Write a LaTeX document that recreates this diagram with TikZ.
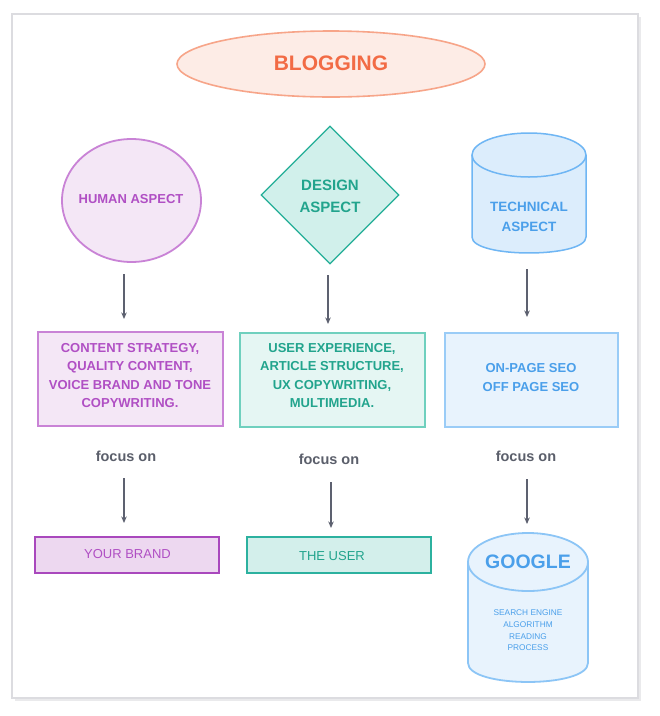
\documentclass[tikz,border=0pt]{standalone}
\usepackage{fontspec}
\setmainfont{Liberation Sans}
\usetikzlibrary{shapes.geometric,arrows.meta}
\definecolor{orgfill}{HTML}{FDECE6}
\definecolor{orgdraw}{HTML}{F7A589}
\definecolor{orgtext}{HTML}{F26B45}
\definecolor{purfill}{HTML}{F4E7F6}
\definecolor{purdraw}{HTML}{C983D6}
\definecolor{purtext}{HTML}{B04FC4}
\definecolor{purfilltwo}{HTML}{EDD8F0}
\definecolor{purdrawtwo}{HTML}{A948BD}
\definecolor{tealfill}{HTML}{D1F0EB}
\definecolor{tealdraw}{HTML}{23AE97}
\definecolor{tealtext}{HTML}{22A48D}
\definecolor{tealboxfill}{HTML}{E5F6F3}
\definecolor{tealboxdraw}{HTML}{6FD0BE}
\definecolor{tealfilltwo}{HTML}{D3EFEB}
\definecolor{tealdrawtwo}{HTML}{2CB19F}
\definecolor{bluefill}{HTML}{DCEDFC}
\definecolor{bluedraw}{HTML}{6FB6F4}
\definecolor{bluetext}{HTML}{4A9FEA}
\definecolor{blueboxfill}{HTML}{E8F3FD}
\definecolor{blueboxdraw}{HTML}{9ACCF7}
\definecolor{arrowc}{HTML}{5D6170}
\definecolor{focusc}{HTML}{5B5F6B}
\definecolor{framec}{HTML}{DCDCE0}
\begin{document}
\begin{tikzpicture}[x=1pt,y=-1pt,
  arr/.style={draw=arrowc, line width=1.1pt, -{Stealth[length=6.5pt,width=5.5pt]}},
  boxnode/.style={rectangle, inner sep=0pt, line width=1.6pt},
  lowbox/.style={rectangle, inner sep=0pt, line width=2.2pt, minimum width=184pt, minimum height=36pt},
  bold13/.style={font=\fontsize{13}{18.3}\selectfont\bfseries, align=center, inner sep=0pt},
  focus/.style={font=\fontsize{14.5}{17}\selectfont\bfseries, text=focusc, inner sep=0pt}
]
\useasboundingbox (0,0) rectangle (660,716);
\fill[white] (0,0) rectangle (660,716);
% frame
\draw[framec!60, line width=2pt] (15,700) -- (640,700) -- (640,17);
\draw[framec, line width=2.5pt] (12,14) rectangle (638,698);

% title
\node[ellipse, draw=orgdraw, fill=orgfill, line width=1.6pt, minimum width=308pt, minimum height=66pt, inner sep=0pt] (blog) at (331,64) {};
\node[font=\fontsize{21}{25}\selectfont\bfseries, text=orgtext, inner sep=0pt] (blogt) at (331,63) {BLOGGING};

% human aspect
\node[ellipse, draw=purdraw, fill=purfill, line width=1.8pt, minimum width=139pt, minimum height=123pt, inner sep=0pt] (hum) at (131.5,200.5) {};
\node[bold13, text=purtext] (humt) at (131,199) {HUMAN ASPECT};

% design aspect
\node[diamond, draw=tealdraw, fill=tealfill, line width=1.2pt, minimum width=138pt, minimum height=138pt, inner sep=0pt] (des) at (330,195) {};
\node[font=\fontsize{15}{22}\selectfont\bfseries, text=tealtext, align=center, inner sep=0pt] (dest) at (330,196) {DESIGN\\ASPECT};

% technical aspect cylinder
\fill[bluefill] (472,155) -- (472,237) .. controls (472,258.3) and (586,258.3) .. (586,237) -- (586,155) -- cycle;
\draw[bluedraw, line width=1.5pt] (472,155) -- (472,237) .. controls (472,258.3) and (586,258.3) .. (586,237) -- (586,155);
\draw[bluedraw, fill=bluefill, line width=1.5pt] (529,155) ellipse (57 and 22);
\node[font=\fontsize{13.5}{20}\selectfont\bfseries, text=bluetext, align=center, inner sep=0pt] (techt) at (529,217) {TECHNICAL\\ASPECT};

% middle boxes
\node[boxnode, draw=purdraw, fill=purfill, minimum width=185pt, minimum height=94pt] (hbox) at (130.5,379) {};
\node[bold13, text=purtext] (hboxt) at (130,375.5) {CONTENT STRATEGY,\\QUALITY CONTENT,\\VOICE BRAND AND TONE\\COPYWRITING.};
\node[boxnode, draw=tealboxdraw, fill=tealboxfill, minimum width=185pt, minimum height=94pt] (dbox) at (332.5,380) {};
\node[bold13, text=tealtext] (dboxt) at (332,375.5) {USER EXPERIENCE,\\ARTICLE STRUCTURE,\\UX COPYWRITING,\\MULTIMEDIA.};
\node[boxnode, draw=blueboxdraw, fill=blueboxfill, minimum width=173pt, minimum height=94pt] (tbox) at (531.5,380) {};
\node[bold13, text=bluetext] (tboxt) at (531,377.5) {ON-PAGE SEO\\OFF PAGE SEO};

% focus on
\node[focus] (f1) at (126,456) {focus on};
\node[focus] (f2) at (329,459) {focus on};
\node[focus] (f3) at (526,456) {focus on};

% bottom boxes
\node[lowbox, draw=purdrawtwo, fill=purfilltwo] (brand) at (127,555) {};
\node[font=\fontsize{13}{15}\selectfont, text=purtext, inner sep=0pt] (brandt) at (127.5,554) {YOUR BRAND};
\node[lowbox, draw=tealdrawtwo, fill=tealfilltwo] (user) at (339,555) {};
\node[font=\fontsize{13}{15}\selectfont, text=tealtext, inner sep=0pt] (usert) at (332,556) {THE USER};

% google cylinder
\fill[blueboxfill] (468,562) -- (468,663) .. controls (468,688.3) and (588,688.3) .. (588,663) -- (588,562) -- cycle;
\draw[bluedraw!80, line width=1.8pt] (468,562) -- (468,663) .. controls (468,688.3) and (588,688.3) .. (588,663) -- (588,562);
\draw[bluedraw!80, fill=blueboxfill, line width=1.8pt] (528,562) ellipse (60 and 29);
\node[font=\fontsize{19.5}{22}\selectfont\bfseries, text=bluetext, inner sep=0pt] (googt) at (528,562) {GOOGLE};
\node[font=\fontsize{8.3}{11.7}\selectfont, text=bluetext, align=center, inner sep=0pt] (goodesc) at (528,630.5) {SEARCH ENGINE\\ALGORITHM\\READING\\PROCESS};

% arrows
\coordinate (a1s) at (124,274); \coordinate (a1e) at (124,319);
\coordinate (a2s) at (328,275); \coordinate (a2e) at (328,324);
\coordinate (a3s) at (527,269); \coordinate (a3e) at (527,317);
\coordinate (b1s) at (124,478); \coordinate (b1e) at (124,523);
\coordinate (b2s) at (331,482); \coordinate (b2e) at (331,528);
\coordinate (b3s) at (527,479); \coordinate (b3e) at (527,524);
\draw[arr] (a1s) -- (a1e);
\draw[arr] (a2s) -- (a2e);
\draw[arr] (a3s) -- (a3e);
\draw[arr] (b1s) -- (b1e);
\draw[arr] (b2s) -- (b2e);
\draw[arr] (b3s) -- (b3e);
\end{tikzpicture}
\end{document}
